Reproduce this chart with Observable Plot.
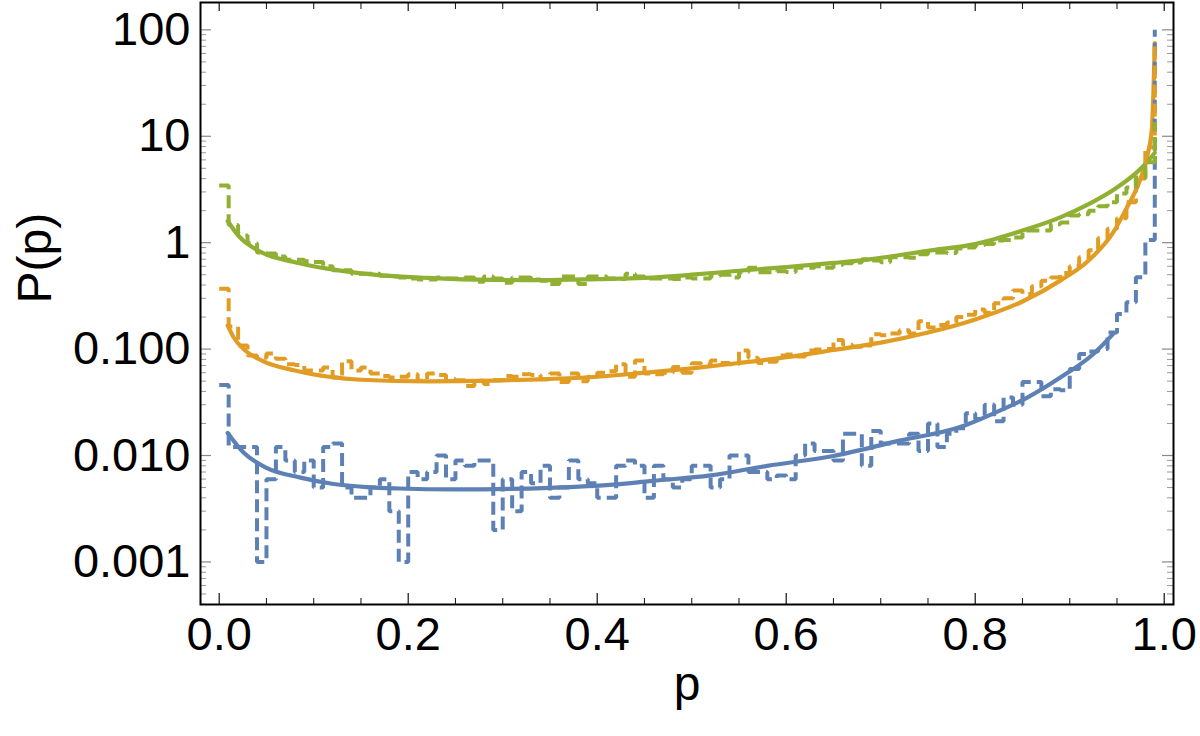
<!DOCTYPE html>
<html>
<head>
<meta charset="utf-8">
<script src="https://cdn.jsdelivr.net/npm/d3@7"></script>
<script src="https://cdn.jsdelivr.net/npm/@observablehq/plot@0.6"></script>
<style>
  html, body { margin: 0; padding: 0; background: #fff; }
  #chart svg { display: block; }
</style>
</head>
<body>
<div id="chart"></div>
<script>
// Histogram bins: each value holds from its bin start p to the next bin start.
const binWidth = 0.01;

// Sampled histogram densities P(p), one per bin (p = 0.00 ... 0.99)
const blueHist = [
  0.046, 0.012, 0.012, 0.012, 0.001, 0.006, 0.012, 0.009, 0.007, 0.009,
  0.005, 0.012, 0.013, 0.005, 0.004, 0.004, 0.005, 0.006, 0.003, 0.001,
  0.007, 0.006, 0.007, 0.010, 0.006, 0.009, 0.008, 0.009, 0.009, 0.002,
  0.006, 0.003, 0.007, 0.0055, 0.008, 0.004, 0.005, 0.009, 0.006, 0.0055,
  0.004, 0.004, 0.008, 0.009, 0.008, 0.004, 0.008, 0.006, 0.005, 0.006,
  0.008, 0.008, 0.005, 0.006, 0.010, 0.010, 0.007, 0.007, 0.006, 0.0065,
  0.006, 0.010, 0.013, 0.011, 0.011, 0.009, 0.016, 0.016, 0.008, 0.017,
  0.013, 0.013, 0.013, 0.016, 0.011, 0.020, 0.012, 0.016, 0.018, 0.025,
  0.022, 0.030, 0.021, 0.035, 0.030, 0.049, 0.049, 0.036, 0.042, 0.041,
  0.065, 0.090, 0.095, 0.100, 0.143, 0.214, 0.275, 0.473, 1.06, 100
];
const orangeHist = [
  0.37, 0.163, 0.108, 0.087, 0.083, 0.091, 0.081, 0.072, 0.071, 0.063,
  0.063, 0.067, 0.054, 0.077, 0.063, 0.067, 0.059, 0.056, 0.054, 0.055,
  0.058, 0.0505, 0.059, 0.057, 0.052, 0.051, 0.045, 0.0505, 0.047, 0.051,
  0.056, 0.055, 0.058, 0.057, 0.052, 0.059, 0.049, 0.059, 0.050, 0.055,
  0.060, 0.062, 0.072, 0.055, 0.078, 0.059, 0.058, 0.060, 0.068, 0.060,
  0.0735, 0.072, 0.078, 0.074, 0.072, 0.097, 0.083, 0.074, 0.076, 0.087,
  0.089, 0.085, 0.097, 0.099, 0.100, 0.122, 0.110, 0.105, 0.108, 0.138,
  0.135, 0.140, 0.150, 0.140, 0.183, 0.160, 0.168, 0.178, 0.200, 0.210,
  0.235, 0.220, 0.270, 0.300, 0.355, 0.330, 0.390, 0.440, 0.470, 0.520,
  0.60, 0.73, 0.85, 1.10, 1.35, 1.70, 2.40, 4.00, 7.90, 75
];
const greenHist = [
  3.44, 1.47, 1.17, 0.99, 0.81, 0.79, 0.74, 0.69, 0.69, 0.67,
  0.66, 0.60, 0.55, 0.55, 0.51, 0.51, 0.51, 0.49, 0.48, 0.47,
  0.46, 0.45, 0.45, 0.47, 0.46, 0.46, 0.47, 0.43, 0.48, 0.46,
  0.42, 0.47, 0.47, 0.45, 0.44, 0.41, 0.48, 0.48, 0.41, 0.48,
  0.48, 0.46, 0.456, 0.51, 0.48, 0.46, 0.46, 0.46, 0.456, 0.47,
  0.46, 0.46, 0.49, 0.50, 0.47, 0.527, 0.58, 0.527, 0.527, 0.54,
  0.53, 0.58, 0.58, 0.60, 0.58, 0.62, 0.64, 0.65, 0.70, 0.68,
  0.655, 0.73, 0.73, 0.72, 0.78, 0.81, 0.81, 0.80, 0.88, 0.90,
  0.95, 0.97, 1.05, 1.06, 1.12, 1.30, 1.30, 1.30, 1.49, 1.55,
  1.80, 1.85, 2.00, 2.20, 2.40, 2.90, 3.30, 4.10, 5.70, 13.6
];

// Model curves P(p), sampled along p
const blueCurveP = [0.009, 0.026, 0.05, 0.086, 0.121, 0.156, 0.19, 0.25, 0.35, 0.42, 0.456, 0.52, 0.58, 0.65, 0.72, 0.784, 0.82, 0.855, 0.89, 0.925, 0.946];
const blueCurveV = [0.0163, 0.0106, 0.00766, 0.0062, 0.0054, 0.00505, 0.0049, 0.0048, 0.00497, 0.00535, 0.00575, 0.0065, 0.008, 0.0099, 0.0138, 0.0185, 0.025, 0.035, 0.054, 0.09, 0.139];

const orangeCurveP = [0.009, 0.015, 0.0275, 0.045, 0.08, 0.116, 0.15, 0.22, 0.29, 0.34, 0.4, 0.45, 0.5, 0.55, 0.6, 0.65, 0.7, 0.75, 0.8, 0.85, 0.89, 0.92, 0.946, 0.96, 0.974, 0.982, 0.987, 0.99];
const orangeCurveV = [0.166, 0.13, 0.097, 0.078, 0.063, 0.055, 0.0515, 0.0497, 0.0505, 0.052, 0.055, 0.06, 0.066, 0.074, 0.084, 0.098, 0.115, 0.143, 0.19, 0.28, 0.44, 0.68, 1.25, 2.1, 3.8, 6.5, 12, 75];

const greenCurveP = [0.009, 0.02, 0.045, 0.08, 0.116, 0.15, 0.22, 0.29, 0.34, 0.4, 0.45, 0.5, 0.55, 0.6, 0.65, 0.69, 0.75, 0.8, 0.85, 0.89, 0.92, 0.95, 0.97, 0.98, 0.99];
const greenCurveV = [1.6, 1.17, 0.81, 0.655, 0.567, 0.515, 0.467, 0.447, 0.445, 0.455, 0.467, 0.5, 0.545, 0.59, 0.645, 0.7, 0.84, 0.97, 1.3, 1.73, 2.3, 3.3, 4.5, 5.5, 7];

// Axis ticks
const xMajor = [0, 0.2, 0.4, 0.6, 0.8, 1.0];
const xMajorLabels = ["0.0", "0.2", "0.4", "0.6", "0.8", "1.0"];
const xMinor = [0.05, 0.1, 0.15, 0.25, 0.3, 0.35, 0.45, 0.5, 0.55, 0.65, 0.7, 0.75, 0.85, 0.9, 0.95];
const yMajor = [0.001, 0.01, 0.1, 1, 10, 100];
const yMajorLabels = ["0.001", "0.010", "0.100", "1", "10", "100"];
const yMinorMantissa = [2, 3, 4, 5, 6, 7, 8, 9];
const yMinorDecades = [0.0001, 0.001, 0.01, 0.1, 1, 10, 100];

const colors = {blue: "#5E81B5", orange: "#E19C24", green: "#8FB032"};

// Layout
const W = 1200, H = 736;
const mL = 200, mR = 27, mT = 2, mB = 132;
const plotW = W - mL - mR, plotH = H - mT - mB;
const xDomain = [-0.0198, 1.0098];
const yDomain = [Math.pow(10, -3.40), Math.pow(10, 2.257)];

const histRows = (vals) => vals.map((v, i) => ({p: i * binWidth, v}));
const curveRows = (ps, vs) => ps.map((p, i) => ({p, v: vs[i]}));
const yMinor = yMinorDecades.flatMap(d => yMinorMantissa.map(m => m * d))
  .filter(v => v > yDomain[0] && v < yDomain[1]);

const curveStyle = {x: "p", y: "v", strokeWidth: 4.2, curve: "monotone-x"};
const histStyle = {x: "p", y: "v", strokeWidth: 4, curve: "step-after", strokeDasharray: "13,6", strokeLinecap: "butt", strokeLinejoin: "miter"};

const chart = Plot.plot({
  width: W, height: H,
  marginLeft: mL, marginRight: mR, marginTop: mT, marginBottom: mB,
  style: {fontFamily: "'Liberation Sans', Arial, sans-serif", background: "#fff", color: "#000"},
  x: {domain: xDomain},
  y: {type: "log", domain: yDomain},
  marks: [
    // fitted curves
    Plot.line(curveRows(blueCurveP, blueCurveV), {...curveStyle, stroke: colors.blue}),
    Plot.line(curveRows(orangeCurveP, orangeCurveV), {...curveStyle, stroke: colors.orange}),
    Plot.line(curveRows(greenCurveP, greenCurveV), {...curveStyle, stroke: colors.green}),
    // dashed histograms
    Plot.line(histRows(blueHist), {...histStyle, stroke: colors.blue}),
    Plot.line(histRows(orangeHist), {...histStyle, stroke: colors.orange}),
    Plot.line(histRows(greenHist), {...histStyle, stroke: colors.green}),
    // inward frame ticks
    Plot.tickX(xMajor, {x: d => d, insetTop: plotH - 11, stroke: "#222", strokeWidth: 1.3}),
    Plot.tickX(xMinor, {x: d => d, insetTop: plotH - 6, stroke: "#222", strokeWidth: 1.1}),
    Plot.tickX(xMajor, {x: d => d, insetBottom: plotH - 9, stroke: "#222", strokeWidth: 1.3}),
    Plot.tickX(xMinor, {x: d => d, insetBottom: plotH - 7, stroke: "#222", strokeWidth: 1.1}),
    Plot.tickY(yMajor, {y: d => d, insetRight: plotW - 11, stroke: "#888", strokeWidth: 1.2}),
    Plot.tickY(yMinor, {y: d => d, insetRight: plotW - 6, stroke: "#999", strokeWidth: 1}),
    Plot.tickY(yMajor, {y: d => d, insetLeft: plotW - 11, stroke: "#888", strokeWidth: 1.2}),
    Plot.tickY(yMinor, {y: d => d, insetLeft: plotW - 6, stroke: "#999", strokeWidth: 1}),
    Plot.frame({stroke: "#000", strokeWidth: 2}),
    // tick labels
    Plot.axisX({ticks: xMajor, tickFormat: d => xMajorLabels[xMajor.indexOf(d)], tickSize: 0, tickPadding: 12, fontSize: 47, label: null}),
    Plot.axisY({ticks: yMajor, tickFormat: d => yMajorLabels[yMajor.indexOf(d)], tickSize: 0, tickPadding: 10, fontSize: 47, label: null}),
    // axis titles
    Plot.text(["p"], {text: d => d, frameAnchor: "bottom", dy: 95, fontSize: 48}),
    Plot.text(["P(p)"], {text: d => d, frameAnchor: "left", dx: -165, rotate: -90, fontSize: 48})
  ]
});

document.getElementById("chart").appendChild(chart);
</script>
</body>
</html>
